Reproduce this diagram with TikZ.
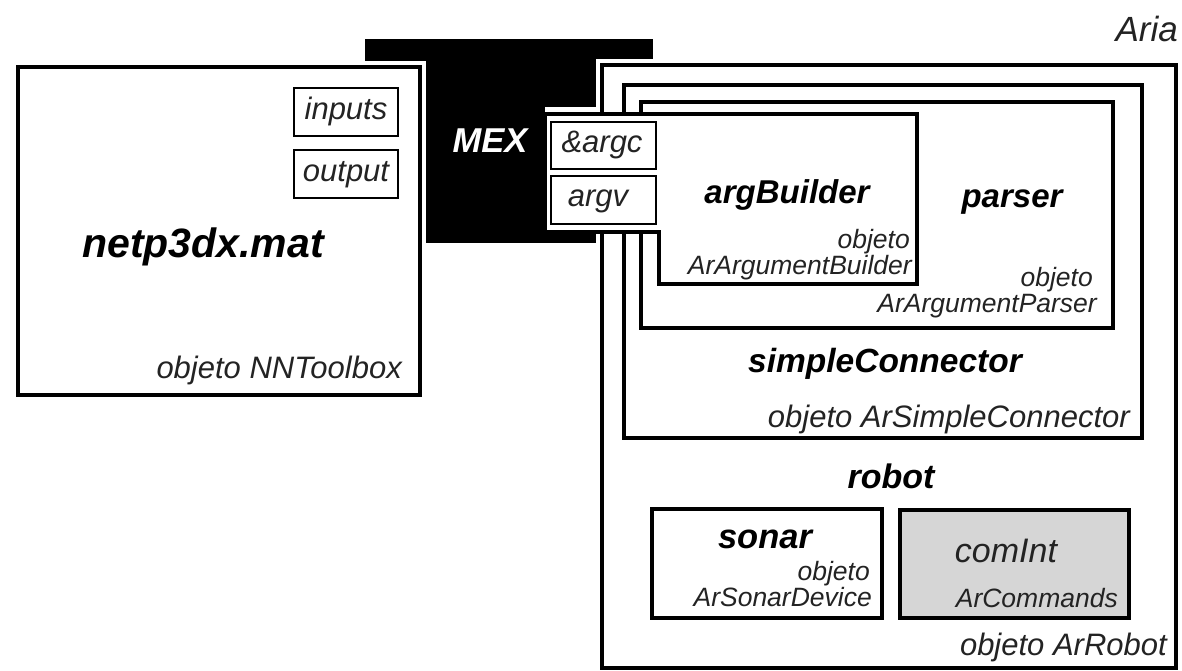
\documentclass[tikz,border=0pt]{standalone}
\usepackage{fontspec}
\setmainfont{Liberation Sans}
\definecolor{cgray}{RGB}{214,214,214}
\definecolor{txt}{RGB}{35,35,35}
\begin{document}
\begin{tikzpicture}[x=1pt,y=-1pt,
  halo/.style={draw=white,line width=12pt},
  box/.style={draw=black,line width=4pt,fill=white},
  port/.style={draw=black,line width=2.2pt,fill=white},
  bl/.style={inner sep=0pt,font=\fontsize{33}{36}\selectfont\bfseries\itshape},
  lb/.style={inner sep=0pt,text=txt,font=\fontsize{31}{34}\selectfont\itshape},
  sm/.style={inner sep=0pt,text=txt,font=\fontsize{26.5}{29}\selectfont\itshape},
]
\useasboundingbox (0,0) rectangle (1182,671);
\fill[white] (0,0) rectangle (1182,671);
% MEX block
\fill[black] (365,39) rectangle (653,243);
% netp3dx box
\draw[halo] (18,67) rectangle (420,395);
\draw[box] (18,67) rectangle (420,395);
\draw[port] (294,88) rectangle (398,136);
\draw[port] (294,150) rectangle (398,198);
% Aria box
\draw[halo] (602,65) rectangle (1176,668);
\draw[box] (602,65) rectangle (1176,668);
% simpleConnector
\draw[box] (624,85) rectangle (1142,438);
% parser
\draw[box] (641,102) rectangle (1113,328);
% argBuilder with port container
\draw[white,line width=5pt] (545,109.5) -- (600,109.5);
\draw[box] (545,114) -- (917,114) -- (917,284) -- (659,284) -- (659,232) -- (545,232) -- cycle;
\draw[port] (551,122) rectangle (656,169);
\draw[port] (551,176) rectangle (656,224);
% robot parts
\draw[box] (652,509) rectangle (882,618);
\draw[box,fill=cgray] (900,510) rectangle (1129,618);

% texts
\node[bl,anchor=base,font=\fontsize{41}{46}\selectfont\bfseries\itshape] (netp) at (203,257) {netp3dx.mat};
\node[lb,anchor=base east] (nntb) at (402,378) {objeto NNToolbox};
\node[lb,anchor=base] (inputs) at (346,120) {inputs};
\node[lb,anchor=base] (output) at (346,182) {output};
\node[bl,anchor=base,text=white,font=\fontsize{34.5}{38}\selectfont\bfseries\itshape] (mex) at (490,153) {MEX};
\node[lb,anchor=base] (argc) at (602,153) {\&argc};
\node[lb,anchor=base] (argv) at (598,206) {argv};
\node[lb,anchor=base east,font=\fontsize{35}{38}\selectfont\itshape] (aria) at (1178,42) {Aria};
\node[bl,anchor=base] (argb) at (787,203) {argBuilder};
\node[sm,anchor=base east] (argbo) at (910,248) {objeto};
\node[sm,anchor=base east] (argbc) at (912,274) {ArArgumentBuilder};
\node[bl,anchor=base] (parser) at (1012,207) {parser};
\node[sm,anchor=base east] (parso) at (1093,286) {objeto};
\node[sm,anchor=base east] (parsc) at (1097,312) {ArArgumentParser};
\node[bl,anchor=base,font=\fontsize{33.5}{37}\selectfont\bfseries\itshape] (sc) at (885,372) {simpleConnector};
\node[lb,anchor=base east] (scc) at (1130,427) {objeto ArSimpleConnector};
\node[bl,anchor=base,font=\fontsize{34}{37}\selectfont\bfseries\itshape] (robot) at (891,488) {robot};
\node[bl,anchor=base,font=\fontsize{34.5}{37}\selectfont\bfseries\itshape] (sonar) at (765,548) {sonar};
\node[sm,anchor=base east] (sonaro) at (870,580) {objeto};
\node[sm,anchor=base east] (sonarc) at (872,606) {ArSonarDevice};
\node[lb,anchor=base,font=\fontsize{34}{37}\selectfont\itshape] (comint) at (1006,562) {comInt};
\node[sm,anchor=base east] (comc) at (1118,607) {ArCommands};
\node[lb,anchor=base east] (robc) at (1167,655) {objeto ArRobot};
\end{tikzpicture}
\end{document}
